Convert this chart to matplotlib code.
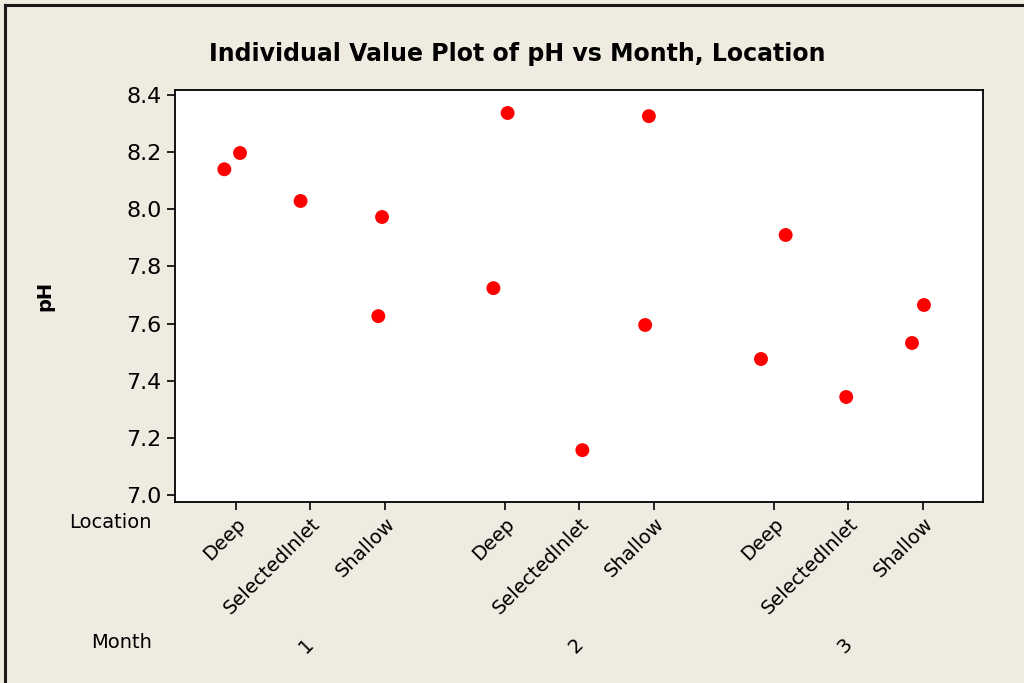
import numpy as np
import matplotlib
matplotlib.use("Agg")
import matplotlib.pyplot as plt
from matplotlib.lines import Line2D

# Data
months = ["1", "2", "3"]
locations = ["Deep", "SelectedInlet", "Shallow"]

# (month index, location index, pH, small horizontal jitter as drawn)
pt_month = [0, 0, 0, 0, 0, 1, 1, 1, 1, 1, 2, 2, 2, 2, 2]
pt_loc = [0, 0, 1, 2, 2, 0, 0, 1, 2, 2, 0, 0, 1, 2, 2]
ph_values = [8.14, 8.197, 8.029, 7.973, 7.626,
             7.724, 8.337, 7.157, 8.326, 7.595,
             7.476, 7.91, 7.343, 7.532, 7.665]
jitter = [-0.15, 0.06, -0.13, -0.04, -0.09,
          -0.15, 0.04, 0.04, -0.07, -0.12,
          -0.17, 0.16, -0.03, -0.15, 0.01]

y_ticks = [7.0, 7.2, 7.4, 7.6, 7.8, 8.0, 8.2, 8.4]

bg = "#efebe1"
group_gap = 1.6

fig = plt.figure(figsize=(10.24, 6.83), dpi=100, facecolor=bg)
ax = fig.add_axes([175 / 1024, 1 - 502 / 683, 808 / 1024, 412 / 683])
ax.set_facecolor("white")

def xpos(m, l):
    return m * (len(locations) - 1 + group_gap) + l

x = [xpos(m, l) + j for m, l, j in zip(pt_month, pt_loc, jitter)]
ax.scatter(x, ph_values, s=100, color="#ff0000", edgecolors="none", zorder=3)

ax.set_xlim(-0.81, xpos(2, 2) + 0.8)
ax.set_ylim(6.9755, 8.4175)
ax.set_yticks(y_ticks)
ax.set_yticklabels([f"{v:.1f}" for v in y_ticks], fontsize=16)

tick_x = [xpos(m, l) for m in range(len(months)) for l in range(len(locations))]
ax.set_xticks(tick_x)
ax.set_xticklabels(locations * len(months), rotation=45, ha="right",
                   rotation_mode="anchor", fontsize=14)
ax.tick_params(axis="both", direction="out", length=6, width=1.2, color="black")
ax.tick_params(axis="x", pad=3)
for lbl in ax.get_xticklabels():
    lbl.set_x(lbl.get_position()[0])

for sp in ax.spines.values():
    sp.set_linewidth(1.3)
    sp.set_color("black")

ax.set_ylabel("pH", fontsize=14, fontweight="bold", labelpad=52)

# Month labels under each group
for m, name in enumerate(months):
    ax.text(xpos(m, 1) - 0.05, -0.35, name, transform=ax.get_xaxis_transform(),
            rotation=45, ha="center", va="center", fontsize=14)

fig.text(152 / 1024, 1 - 523 / 683, "Location", ha="right", va="center", fontsize=14)
fig.text(152 / 1024, 1 - 642 / 683, "Month", ha="right", va="center", fontsize=14)

fig.text(517 / 1024, 1 - 54 / 683, "Individual Value Plot of pH vs Month, Location",
         ha="center", va="center", fontsize=17, fontweight="bold")

# outer frame lines (top and left only)
fig.add_artist(Line2D([5 / 1024, 1], [1 - 5 / 683, 1 - 5 / 683],
                      transform=fig.transFigure, color="#1a1a1a", lw=2.2))
fig.add_artist(Line2D([5 / 1024, 5 / 1024], [0, 1 - 5 / 683],
                      transform=fig.transFigure, color="#1a1a1a", lw=2.2))

fig.savefig("out.png", dpi=100, facecolor=bg)
